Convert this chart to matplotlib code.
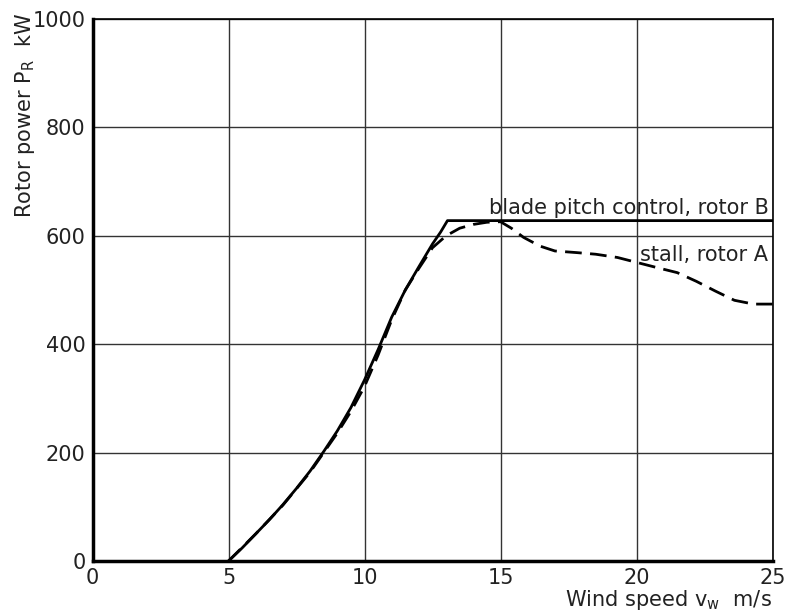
import matplotlib
matplotlib.use("Agg")
import matplotlib.pyplot as plt
from matplotlib import font_manager

# ---- data ----
pitch_v = [5.0, 5.5, 6.0, 6.5, 7.0, 7.5, 8.0, 8.5, 9.0, 9.5, 10.0, 10.5, 11.0,
           11.5, 12.0, 12.5, 12.8, 13.05, 25.0]
pitch_p = [0, 24, 50, 76, 104, 134, 166, 202, 240, 283, 334, 390, 450,
           500, 543, 585, 607, 628, 628]

stall_v = [5.0, 6.0, 7.0, 8.0, 9.0, 9.5, 10.0, 10.5, 11.0, 11.5, 12.0, 12.5,
           13.0, 13.5, 14.0, 14.5, 15.0, 15.4, 15.85, 16.45, 17.0, 17.8, 18.5,
           19.3, 20.0, 20.7, 21.5, 22.2, 22.9, 23.6, 24.3, 25.0]
stall_p = [0, 50, 103, 164, 236, 276, 322, 380, 445, 500, 540, 578,
           600, 614, 621, 625, 626, 614, 597, 581, 572, 569, 566,
           560, 551, 542, 532, 516, 498, 481, 474, 474]

x_ticks = [0, 5, 10, 15, 20, 25]
y_ticks = [0, 200, 400, 600, 800, 1000]

# ---- font ----
names = {f.name for f in font_manager.fontManager.ttflist}
fam = ["Liberation Sans Narrow"] if "Liberation Sans Narrow" in names else []
fam += ["DejaVu Sans"]
plt.rcParams["font.family"] = fam

fig = plt.figure(figsize=(7.86, 6.15), dpi=100)
ax = fig.add_axes([92.5 / 786, 54 / 615, 680 / 786, 542 / 615])

ax.set_xlim(0, 25)
ax.set_ylim(0, 1000)
ax.set_xticks(x_ticks)
ax.set_yticks(y_ticks)
ax.set_xticklabels([str(t) for t in x_ticks])
ax.set_yticklabels([str(t) for t in y_ticks])
ax.tick_params(length=0, labelsize=15, colors="#222222", pad=5)
ax.grid(True, color="#333333", linewidth=1.0)
ax.set_axisbelow(True)

for s in ["left", "bottom"]:
    ax.spines[s].set_linewidth(2.5)
for s in ["top", "right"]:
    ax.spines[s].set_linewidth(1.2)

ax.plot(pitch_v, pitch_p, color="black", linewidth=2.0, solid_joinstyle="round")
ax.plot(stall_v, stall_p, color="black", linewidth=2.0, dashes=(6, 3))

ax.text(24.85, 652, "blade pitch control, rotor B", ha="right", va="center",
        fontsize=15, color="#222222")
ax.text(24.85, 565, "stall, rotor A", ha="right", va="center",
        fontsize=15, color="#222222")

fig.text(772 / 786, 1 - 600 / 615, "Wind speed v$_\\mathregular{w}$  m/s",
         ha="right", va="center", fontsize=15, color="#222222")
fig.text(25 / 786, 1 - 115 / 615, "Rotor power P$_\\mathregular{R}$  kW",
         ha="center", va="center", rotation=90, fontsize=15, color="#222222")

fig.savefig("out.png", dpi=100)
